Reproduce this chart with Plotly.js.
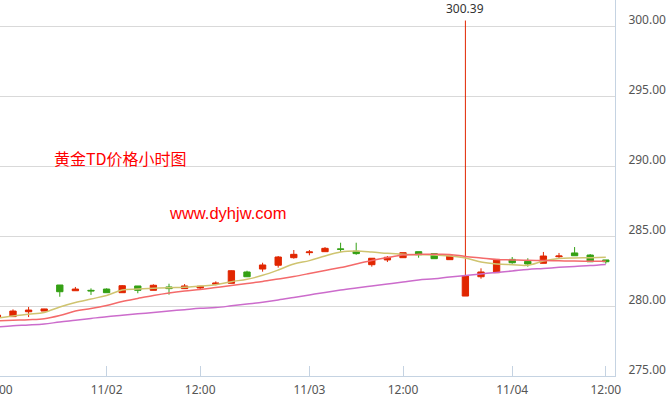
<!DOCTYPE html>
<html>
<head>
<meta charset="utf-8">
<script src="https://cdn.plot.ly/plotly-3.0.1.min.js"></script>
<style>html,body{margin:0;padding:0;background:#fff;}#chart{width:670px;height:400px;}</style>
</head>
<body>
<div id="chart"></div>
<script>
const times = ["11/01 13:00","11/01 14:00","11/01 15:00","11/01 20:00","11/01 21:00","11/01 22:00","11/01 23:00",
"11/02 00:00","11/02 01:00","11/02 02:00","11/02 09:00","11/02 10:00","11/02 11:00","11/02 13:00","11/02 14:00","11/02 15:00",
"11/02 20:00","11/02 21:00","11/02 22:00","11/02 23:00","11/03 00:00","11/03 01:00","11/03 02:00","11/03 09:00","11/03 10:00",
"11/03 11:00","11/03 13:00","11/03 14:00","11/03 15:00","11/03 20:00","11/03 21:00","11/03 22:00","11/03 23:00","11/04 00:00",
"11/04 01:00","11/04 02:00","11/04 09:00","11/04 10:00","11/04 11:00","11/04 13:00"];

const openP  = [279.20,279.24,279.59,279.64,281.50,281.09,281.12,281.21,280.95,281.43,281.12,281.36,281.24,281.29,281.55,281.62,282.43,282.64,282.91,283.45,283.81,283.88,284.08,283.91,282.95,283.29,283.45,283.88,283.74,283.31,280.71,282.09,282.38,283.33,283.19,283.05,283.52,283.79,283.64,283.29];
const highP  = [279.40,279.76,279.93,279.80,281.50,281.36,281.26,281.26,281.50,281.43,281.55,281.59,281.57,281.43,281.76,282.55,282.52,283.09,283.57,284.00,284.00,284.21,284.52,284.52,283.41,283.57,283.81,283.88,283.74,283.57,300.39,282.69,283.33,283.50,283.41,283.86,283.79,284.21,283.71,283.29];
const lowP   = [279.15,279.24,279.21,279.64,280.66,281.09,280.79,280.95,280.95,280.91,281.12,280.81,281.24,281.19,281.48,281.62,282.09,282.45,282.74,283.38,283.62,283.88,283.86,283.66,282.81,283.14,283.45,283.45,283.38,283.31,280.71,281.95,282.38,283.02,282.81,283.05,283.43,283.59,283.16,283.02];
const closeP = [279.35,279.64,279.71,279.79,281.02,281.21,281.08,280.95,281.45,281.12,281.48,281.24,281.43,281.41,281.64,282.52,282.09,282.93,283.50,283.69,283.86,284.12,284.05,283.74,283.41,283.48,283.81,283.66,283.38,283.57,282.14,282.43,283.33,283.09,283.00,283.57,283.57,283.59,283.16,283.16];

const ma5  = [279.14,279.29,279.41,279.54,279.93,280.25,280.50,280.75,281.14,281.21,281.26,281.31,281.34,281.43,281.52,281.74,281.91,282.19,282.57,283.00,283.24,283.57,283.86,283.93,283.86,283.76,283.69,283.66,283.64,283.57,283.43,283.14,283.00,282.95,282.91,283.21,283.39,283.43,283.45,283.48];
const ma10 = [278.93,278.98,279.02,279.09,279.32,279.64,279.82,280.04,280.32,280.54,280.75,280.93,281.07,281.18,281.32,281.46,281.61,281.75,281.93,282.11,282.32,282.54,282.75,283.00,283.25,283.46,283.64,283.69,283.69,283.68,283.54,283.43,283.32,283.29,283.26,283.25,283.23,283.21,283.20,283.19];
const ma20 = [278.50,278.59,278.64,278.71,278.86,278.98,279.11,279.24,279.34,279.44,279.54,279.64,279.74,279.84,279.89,280.01,280.14,280.27,280.43,280.61,280.79,280.97,281.14,281.29,281.43,281.57,281.71,281.86,281.94,282.07,282.18,282.29,282.40,282.50,282.61,282.68,282.76,282.83,282.89,282.97];

const tickTimes  = ["11/01 13:00","11/02 00:00","11/02 13:00","11/03 00:00","11/03 13:00","11/04 00:00","11/04 13:00"];
const tickLabels = ["12:00","11/02","12:00","11/03","12:00","11/04","12:00"];

const titleText = "黄金TD价格小时图";
const siteText = "www.dyhjw.com";

const RED = "#e12600", GREEN = "#34a014";

let maxIdx = 0;
highP.forEach((v,i)=>{ if (v > highP[maxIdx]) maxIdx = i; });

const xRange = [0.167, 39.59];
// paper position of the first (off-range) tick, which the axis itself hides
const firstTickPaper = (0 - xRange[0]) / (xRange[1] - xRange[0]);

const traces = [
  {type:'candlestick', x: times, open: openP, high: highP, low: lowP, close: closeP,
   increasing:{line:{color:RED,width:1}, fillcolor:RED},
   decreasing:{line:{color:GREEN,width:1}, fillcolor:GREEN},
   whiskerwidth:0, hoverinfo:'skip', showlegend:false},
  {type:'scatter', mode:'lines', x: times, y: ma5, line:{color:'#cfc470', width:1.5, shape:'spline'}, hoverinfo:'skip', showlegend:false},
  {type:'scatter', mode:'lines', x: times, y: ma10, line:{color:'#f46a6a', width:1.5, shape:'spline'}, hoverinfo:'skip', showlegend:false},
  {type:'scatter', mode:'lines', x: times, y: ma20, line:{color:'#cc6ccc', width:1.5, shape:'spline'}, hoverinfo:'skip', showlegend:false}
];

const layout = {
  width:670, height:400,
  margin:{l:0, r:55, t:0, b:24, pad:0},
  paper_bgcolor:'#fff', plot_bgcolor:'#fff',
  showlegend:false,
  boxgap:0.42,
  font:{family:'"Noto Sans", "DejaVu Sans", sans-serif', size:12, color:'#555'},
  xaxis:{type:'category', range:xRange, rangeslider:{visible:false},
    tickvals: tickTimes, ticktext: tickLabels,
    ticks:'inside', ticklen:10, tickcolor:'#c5d3e2', tickwidth:1,
    ticklabelstandoff:3,
    showline:true, linecolor:'#c5d3e2', linewidth:1, showgrid:false, zeroline:false,
    tickfont:{size:12, color:'#555'}, fixedrange:true},
  yaxis:{side:'right', range:[275, 301.857], dtick:5, tick0:275, tickformat:'.2f',
    showline:true, linecolor:'#c5d3e2', linewidth:1,
    gridcolor:'#d9d9d9', gridwidth:1, zeroline:false,
    ticks:'outside', ticklen:10, tickcolor:'rgba(0,0,0,0)',
    ticklabelshift:-6,
    tickfont:{size:12, color:'#555'}, fixedrange:true},
  annotations:[
    {xref:'x', yref:'y', x: times[maxIdx], y: highP[maxIdx], text: highP[maxIdx].toFixed(2),
     showarrow:false, yanchor:'bottom', yshift:2, font:{size:12, color:'#333'}},
    {xref:'paper', yref:'paper', x: 52/615, y: (376-158)/376, xanchor:'left', yanchor:'middle',
     text: titleText, showarrow:false, font:{family:'"Noto Sans CJK SC", sans-serif', size:16, color:'#ff0000'}},
    {xref:'paper', yref:'paper', x: 167/615, y: (376-213)/376, xanchor:'left', yanchor:'middle',
     text: siteText, showarrow:false, font:{family:'"Liberation Sans", Arial, sans-serif', size:16.5, color:'#ff0000'}},
    {xref:'paper', yref:'paper', x: firstTickPaper, y: 0, xanchor:'center', yanchor:'top', yshift:-3, text: tickLabels[0],
     showarrow:false, font:{size:12, color:'#555'}}
  ]
};

Plotly.newPlot('chart', traces, layout, {displayModeBar:false, staticPlot:true});
</script>
</body>
</html>
